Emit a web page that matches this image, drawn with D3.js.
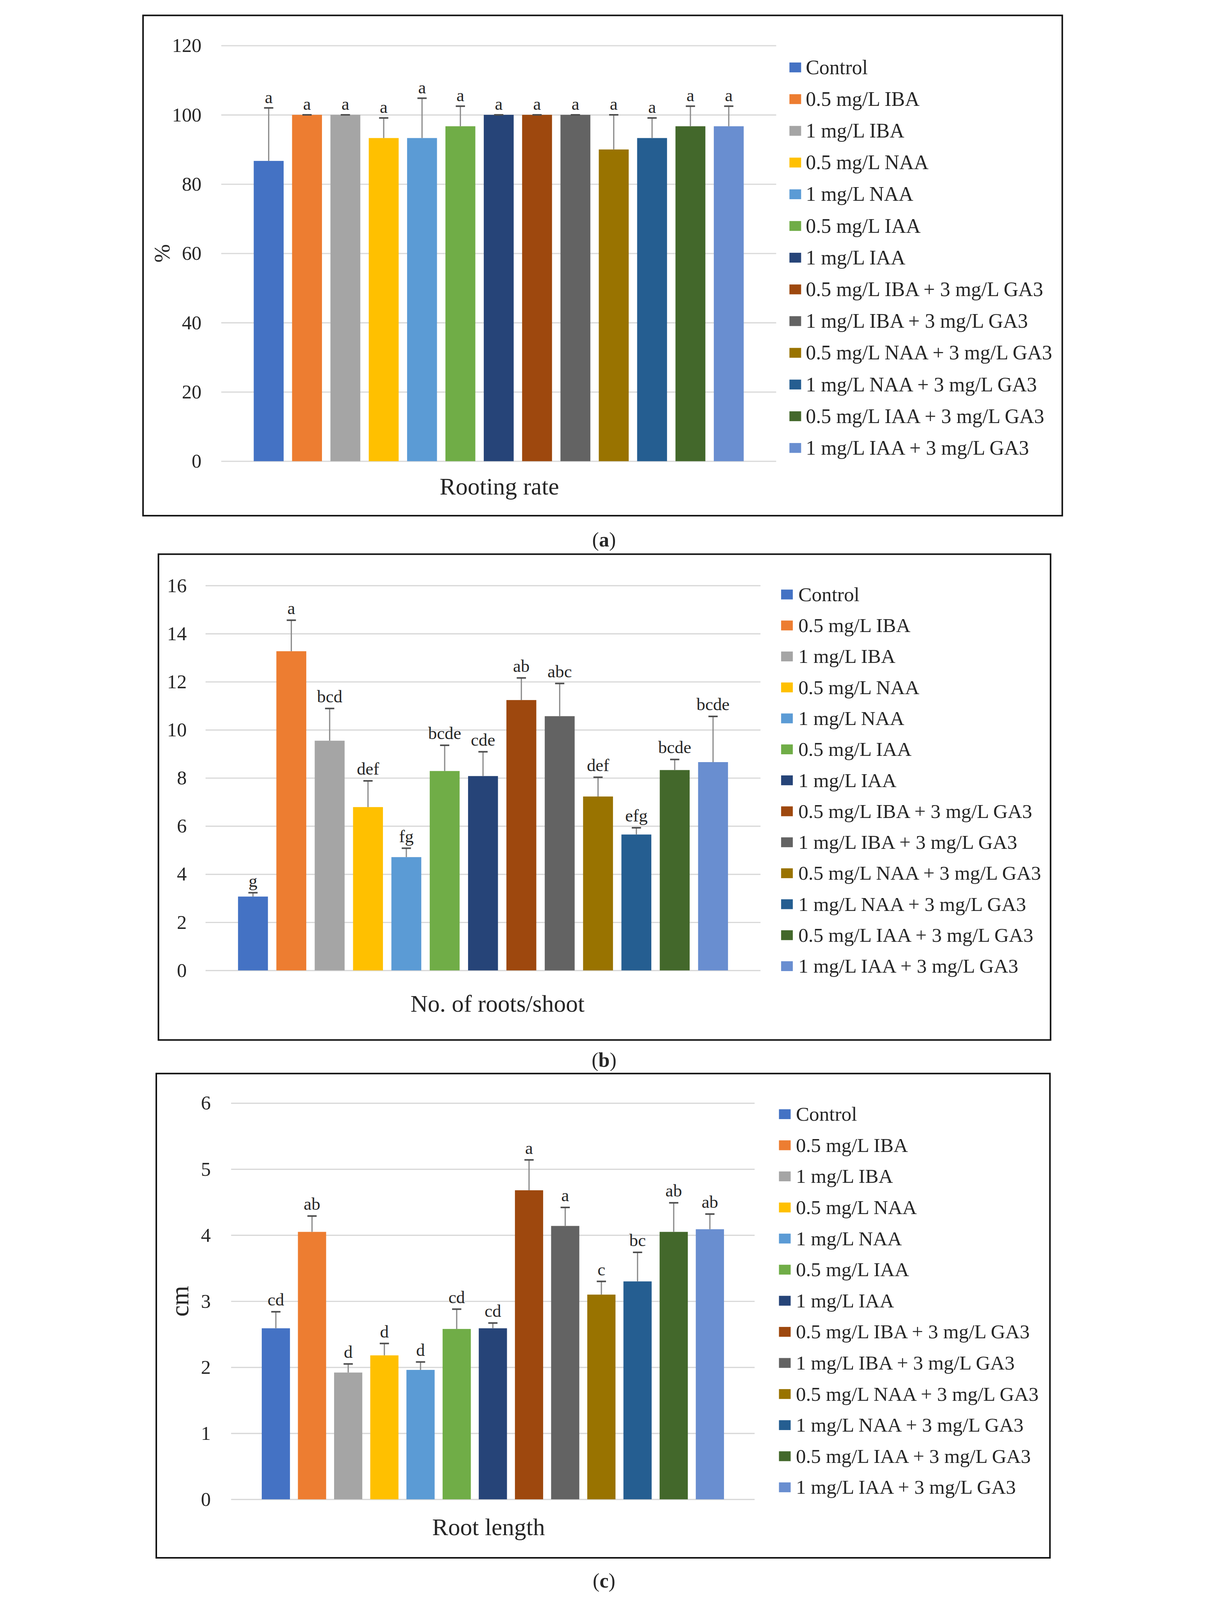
<!DOCTYPE html>
<html>
<head>
<meta charset="utf-8">
<script src="https://cdn.jsdelivr.net/npm/d3@7"></script>
<style>
  html, body { margin: 0; padding: 0; background: #fff; width: 100%; height: 100%; overflow: hidden; }
  #chart { width: 100vw; height: 100vh; }
  svg { display: block; width: 100%; height: 100%; }
  text { font-family: "Liberation Serif", "Times New Roman", serif; fill: #262626; }
</style>
</head>
<body>
<div id="chart"></div>
<script>
// treatments (one series each, Excel style)
const treatments = [
  'Control', '0.5 mg/L IBA', '1 mg/L IBA', '0.5 mg/L NAA', '1 mg/L NAA',
  '0.5 mg/L IAA', '1 mg/L IAA', '0.5 mg/L IBA + 3 mg/L GA3', '1 mg/L IBA + 3 mg/L GA3',
  '0.5 mg/L NAA + 3 mg/L GA3', '1 mg/L NAA + 3 mg/L GA3', '0.5 mg/L IAA + 3 mg/L GA3',
  '1 mg/L IAA + 3 mg/L GA3'
]
const colors = ['#4472C4', '#ED7D31', '#A5A5A5', '#FFC000', '#5B9BD5', '#70AD47', '#264478',
  '#9E480E', '#636363', '#997300', '#255E91', '#43682B', '#698ED0']

// (a) rooting rate, %
const rootingRate = [86.7, 100, 100, 93.3, 93.3, 96.7, 100, 100, 100, 90, 93.3, 96.7, 96.7]
const rootingSD = [15.3, 0, 0, 5.8, 11.5, 5.8, 0, 0, 0, 10, 5.8, 5.8, 5.8]
const rootingLetters = ['a', 'a', 'a', 'a', 'a', 'a', 'a', 'a', 'a', 'a', 'a', 'a', 'a']
const rootingTicks = [0, 20, 40, 60, 80, 100, 120]

// (b) number of roots per shoot
const rootsPerShoot = [3.07, 13.27, 9.55, 6.79, 4.71, 8.29, 8.08, 11.24, 10.57, 7.23, 5.65, 8.33, 8.66]
const rootsSD = [0.16, 1.29, 1.34, 1.09, 0.37, 1.07, 1.01, 0.92, 1.36, 0.80, 0.28, 0.44, 1.90]
const rootsLetters = ['g', 'a', 'bcd', 'def', 'fg', 'bcde', 'cde', 'ab', 'abc', 'def', 'efg', 'bcde', 'bcde']
const rootsTicks = [0, 2, 4, 6, 8, 10, 12, 14, 16]

// (c) root length, cm
const rootLength = [2.59, 4.05, 1.92, 2.18, 1.96, 2.58, 2.59, 4.68, 4.14, 3.10, 3.30, 4.05, 4.09]
const lengthSD = [0.25, 0.24, 0.13, 0.18, 0.12, 0.30, 0.08, 0.46, 0.28, 0.20, 0.44, 0.44, 0.23]
const lengthLetters = ['cd', 'ab', 'd', 'd', 'd', 'cd', 'cd', 'a', 'a', 'c', 'bc', 'ab', 'ab']
const lengthTicks = [0, 1, 2, 3, 4, 5, 6]

const W = 3084, H = 5197

// layout per panel (pixel positions only)
const panels = [
  {
    values: rootingRate, sd: rootingSD, letters: rootingLetters, ticks: rootingTicks,
    title: 'Rooting rate', yTitle: '%', tag: 'a',
    frame: [50, 50, 3035, 1675], px: [304, 2106], py: [1498, 148],
    tickX: 240, yTitleX: 111, titleX: 1207, titleY: 1606, letterGap: 16,
    legX: 2149, legTextX: 2202, legY: 219, legStep: 103, legFont: 66,
    tagY: 1775
  },
  {
    values: rootsPerShoot, sd: rootsSD, letters: rootsLetters, ticks: rootsTicks,
    title: 'No. of roots/shoot', yTitle: null, tag: 'b',
    frame: [100, 1800, 2997, 3378], px: [253, 2055], py: [3152, 1902],
    tickX: 192, titleX: 1201, titleY: 3286, letterGap: 20,
    legX: 2122, legTextX: 2178, legY: 1931, legStep: 100.6, legFont: 65,
    tagY: 3465
  },
  {
    values: rootLength, sd: lengthSD, letters: lengthLetters, ticks: lengthTicks,
    title: 'Root length', yTitle: 'cm', tag: 'c',
    frame: [93, 3487, 2995, 5060], px: [336, 2036], py: [4870, 3583],
    tickX: 270, yTitleX: 168, titleX: 1172, titleY: 4986, letterGap: 20,
    legX: 2115, legTextX: 2170, legY: 3619, legStep: 101, legFont: 65,
    tagY: 5156
  }
]

// the drawing keeps the reference proportions and is fitted into the window
const svg = d3.select('#chart').append('svg')
  .attr('viewBox', `0 0 ${W} ${H}`)
  .attr('preserveAspectRatio', 'xMidYMin meet')

svg.append('rect').attr('width', W).attr('height', H).attr('fill', '#fff')

panels.forEach(p => {
  const g = svg.append('g')
  const data = treatments.map((t, i) => ({ name: t, v: p.values[i], sd: p.sd[i], letter: p.letters[i], color: colors[i] }))

  // frame
  g.append('rect')
    .attr('x', p.frame[0]).attr('y', p.frame[1])
    .attr('width', p.frame[2] - p.frame[0]).attr('height', p.frame[3] - p.frame[1])
    .attr('fill', 'none').attr('stroke', '#111').attr('stroke-width', 5)

  const x = d3.scaleBand().domain(treatments).range(p.px)
    .paddingInner(0.22).paddingOuter(0.847)
  const y = d3.scaleLinear().domain(d3.extent(p.ticks)).range(p.py)

  // gridlines + tick labels
  const yAxis = d3.axisLeft(y).tickValues(p.ticks).tickFormat(d3.format('d'))
    .tickSize(-(p.px[1] - p.px[0])).tickPadding(p.px[0] - p.tickX)
  const ax = g.append('g').attr('transform', `translate(${p.px[0]},0)`).call(yAxis)
  ax.select('.domain').remove()
  ax.selectAll('.tick line').attr('stroke', '#D9D9D9').attr('stroke-width', 4)
  ax.selectAll('.tick text')
    .style('font-family', '"Liberation Serif", serif').style('font-size', '64px').attr('fill', '#262626')

  // bars
  g.selectAll('.bar').data(data).join('rect')
    .attr('class', 'bar')
    .attr('x', d => x(d.name)).attr('width', x.bandwidth())
    .attr('y', d => y(d.v)).attr('height', d => y(0) - y(d.v))
    .attr('fill', d => d.color)

  // error bars (upper only)
  const cx = d => x(d.name) + x.bandwidth() / 2
  g.selectAll('.err').data(data).join('line')
    .attr('class', 'err')
    .attr('x1', cx).attr('x2', cx)
    .attr('y1', d => y(d.v)).attr('y2', d => y(d.v + d.sd))
    .attr('stroke', '#8C8C8C').attr('stroke-width', 4)
  g.selectAll('.cap').data(data).join('line')
    .attr('class', 'cap')
    .attr('x1', d => cx(d) - 15).attr('x2', d => cx(d) + 15)
    .attr('y1', d => y(d.v + d.sd)).attr('y2', d => y(d.v + d.sd))
    .attr('stroke', '#4d4d4d').attr('stroke-width', 5)

  // significance letters
  g.selectAll('.letter').data(data).join('text')
    .attr('class', 'letter')
    .attr('x', cx).attr('y', d => y(d.v + d.sd) - p.letterGap)
    .attr('text-anchor', 'middle')
    .style('font-size', '57px')
    .text(d => d.letter)

  // axis titles
  g.append('text')
    .attr('x', p.titleX).attr('y', p.titleY)
    .attr('text-anchor', 'middle')
    .style('font-size', '78px')
    .text(p.title)

  if (p.yTitle) {
    const ym = (p.py[0] + p.py[1]) / 2
    g.append('text')
      .attr('transform', `translate(${p.yTitleX},${ym}) rotate(-90)`)
      .attr('text-anchor', 'middle').attr('dy', '0.35em')
      .style('font-size', p.yTitle === 'cm' ? '82px' : '72px')
      .text(p.yTitle)
  }

  // legend
  const leg = g.selectAll('.leg').data(data).join('g')
    .attr('class', 'leg')
    .attr('transform', (d, i) => `translate(0,${p.legY + i * p.legStep})`)
  leg.append('rect')
    .attr('x', p.legX).attr('y', -16).attr('width', 38).attr('height', 32)
    .attr('fill', d => d.color)
  leg.append('text')
    .attr('x', p.legTextX).attr('dy', '0.33em')
    .style('font-size', p.legFont + 'px')
    .text(d => d.name)

  // panel tag
  const tag = svg.append('text')
    .attr('x', 1547).attr('y', p.tagY)
    .attr('text-anchor', 'middle')
    .style('font-size', '66px')
  tag.append('tspan').text('(')
  tag.append('tspan').style('font-weight', 'bold').text(p.tag)
  tag.append('tspan').text(')')
})
</script>
</body>
</html>
